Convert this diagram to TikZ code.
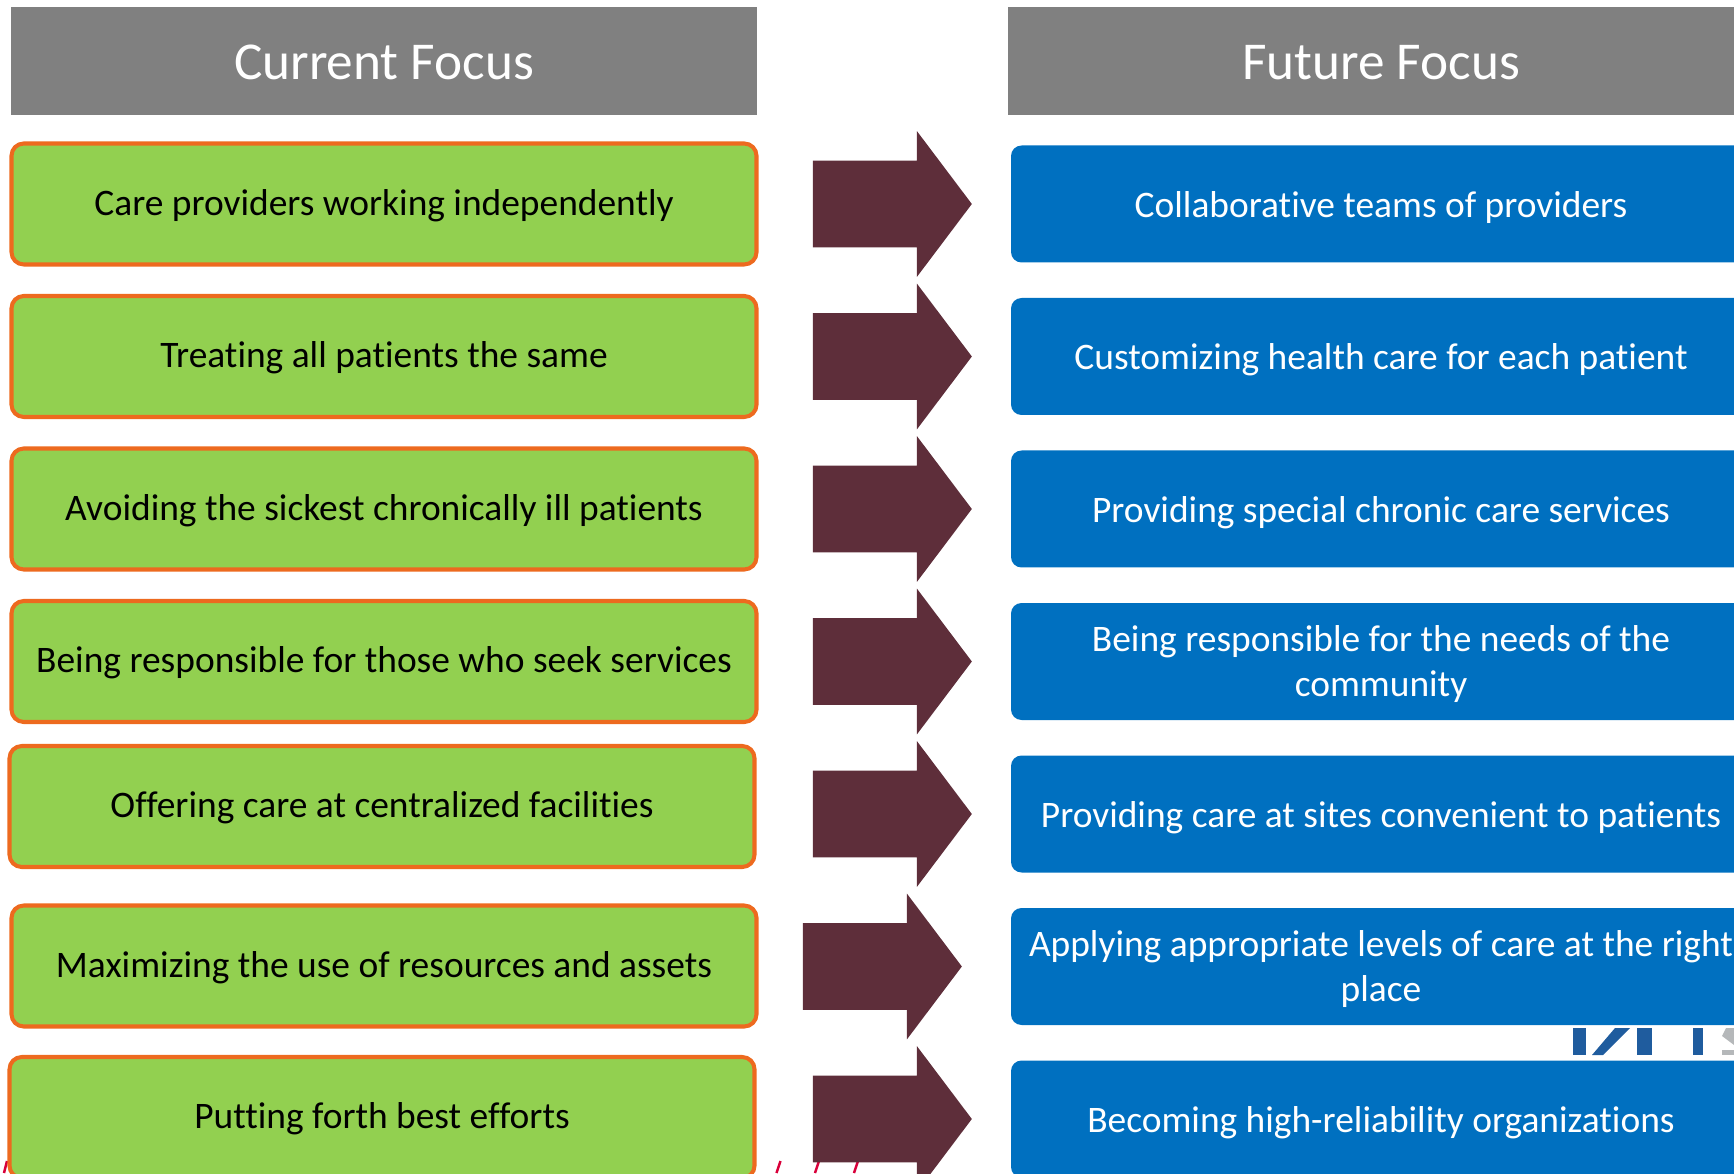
\documentclass[tikz,border=0pt]{standalone}
\usepackage{fontspec}
\setmainfont{Carlito}[Ligatures=NoCommon]
\usepackage{tikz}
\usetikzlibrary{shapes.arrows}

\definecolor{greenfill}{HTML}{92D050}
\definecolor{orangeline}{HTML}{ED6A1F}
\definecolor{bluefill}{HTML}{0070C0}
\definecolor{maroonfill}{HTML}{5E2E3A}
\definecolor{logoblue}{HTML}{1F5C9E}
\definecolor{logogray}{HTML}{B5B8BA}
\definecolor{tickred}{HTML}{D9003A}

\begin{document}
\begin{tikzpicture}[-,auto,node distance=3.05cm,
                    head node/.style={rectangle,fill=black!50,text=white,minimum width=14.92cm,minimum height=2.17cm,inner sep=0pt,text height=20.6pt,text depth=0pt,font=\fontsize{30.3}{36}\selectfont},
                    old node/.style={rectangle,rounded corners=7pt,draw=orangeline,line width=2.3pt,fill=greenfill,minimum width=14.9cm,minimum height=2.42cm,inner sep=0pt,text height=16.5pt,text depth=3.8pt,font=\fontsize{21.3}{28}\selectfont},
                    new node/.style={rectangle,rounded corners=6pt,fill=bluefill,text=white,minimum width=14.8cm,minimum height=2.34cm,inner sep=0pt,align=center,text height=19pt,text depth=3.8pt,font=\fontsize{21.3}{25.5}\selectfont},
                    arrow node/.style={single arrow,fill=maroonfill,inner xsep=0pt,inner ysep=0.86cm,minimum height=3.18cm,single arrow head extend=0.59cm,single arrow tip angle=106}]
  \useasboundingbox (0,0) rectangle (34.68,23.46);
  \clip (0,0) rectangle (34.68,23.46);
  %ticks%
  \draw[tickred,line width=1.4pt] (0.14,0.24) -- (0.08,0);
  \draw[tickred,line width=1.4pt] (15.61,0.24) -- (15.53,0);
  \draw[tickred,line width=1.4pt] (16.38,0.24) -- (16.30,0);
  \draw[tickred,line width=1.4pt] (17.16,0.24) -- (17.08,0);

  %logo%
  \fill[logoblue] (31.46,2.36) rectangle (31.72,2.90);
  \fill[logoblue] (31.84,2.36) -- (32.06,2.36) -- (32.60,2.90) -- (32.30,2.90) -- cycle;
  \fill[logoblue] (32.74,2.36) rectangle (33.04,2.90);
  \fill[logoblue] (33.86,2.36) rectangle (34.06,2.90);
  \fill[logogray] (34.68,2.90) -- (34.52,2.90) -- (34.44,2.74) -- (34.68,2.56) -- cycle;
  \fill[logogray] (34.44,2.36) rectangle (34.68,2.46);

  %headers%
  \node[head node] (h1) at (7.68,22.24) {Current Focus};
  \node[head node] (h2) at (27.62,22.24) {Future Focus};

  %left column%
  \node[old node] (c1) at (7.68,19.38) {Care providers working independently};
  \node[old node] (c2) at (7.68,16.33) {Treating all patients the same};
  \node[old node] (c3) at (7.68,13.28) {Avoiding the sickest chronically ill patients};
  \node[old node] (c4) at (7.68,10.23) {Being responsible for those who seek services};
  \node[old node] (c5) at (7.64,7.33) {Offering care at centralized facilities};
  \node[old node] (c6) at (7.68,4.14) {Maximizing the use of resources and assets};
  \node[old node] (c7) at (7.64,1.11) {Putting forth best efforts};

  %right column%
  \node[new node] (f1) at (27.62,19.38) {Collaborative teams of providers};
  \node[new node] (f2) [below of=f1] {Customizing health care for each patient};
  \node[new node] (f3) [below of=f2] {Providing special chronic care services};
  \node[new node] (f4) [below of=f3,text height=40pt,text depth=0pt] {Being responsible for the needs of the\\community};
  \node[new node] (f5) [below of=f4] {Providing care at sites convenient to patients};
  \node[new node] (f6) [below of=f5,text height=40pt,text depth=0pt] {Applying appropriate levels of care at the right\\place};
  \node[new node] (f7) [below of=f6] {Becoming high-reliability organizations};

  %arrows%
  \node[arrow node] (a1) at (17.52,19.38) {};
  \node[arrow node] (a2) at (17.52,16.33) {};
  \node[arrow node] (a3) at (17.52,13.28) {};
  \node[arrow node] (a4) at (17.52,10.23) {};
  \node[arrow node] (a5) at (17.52,7.18) {};
  \node[arrow node] (a6) at (17.32,4.13) {};
  \node[arrow node] (a7) at (17.52,1.08) {};
\end{tikzpicture}
\end{document}
